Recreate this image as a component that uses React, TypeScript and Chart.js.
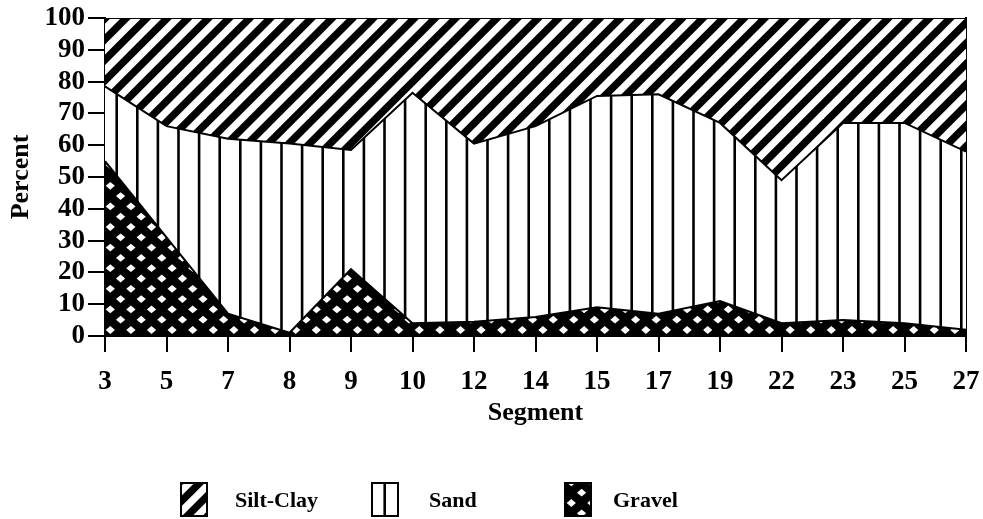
import React, { useEffect, useRef } from 'react';
import { Chart, registerables } from 'chart.js';

Chart.register(...registerables);

const segments = ['3', '5', '7', '8', '9', '10', '12', '14', '15', '17', '19', '22', '23', '25', '27'];
const gravel = [55, 31, 7, 1, 21, 4, 4.5, 6, 9, 7, 11, 4, 5, 4, 2];
const sand = [23.5, 35, 55, 59.5, 37.5, 72.5, 56, 60, 66.5, 69, 56, 45, 62, 63, 56];
const siltClay = [21.5, 34, 38, 39.5, 41.5, 23.5, 39.5, 34, 24.5, 24, 33, 51, 33, 33, 42];
const legendNames = ['Silt-Clay', 'Sand', 'Gravel'];

const FONT = "'Liberation Serif', 'Times New Roman', serif";
const P = 20.6;
const T = 103;

function makeTile(draw: (g: CanvasRenderingContext2D) => void) {
  const c = document.createElement('canvas');
  c.width = T;
  c.height = T;
  const g = c.getContext('2d') as CanvasRenderingContext2D;
  draw(g);
  return c;
}

const tiles: Record<string, () => HTMLCanvasElement> = {
  'Silt-Clay': () =>
    makeTile((g) => {
      g.fillStyle = '#fff';
      g.fillRect(0, 0, T, T);
      g.strokeStyle = '#000';
      g.lineWidth = 7.4;
      for (let k = -2; k <= 12; k++) {
        const c = k * P;
        g.beginPath();
        g.moveTo(c + 10, -10);
        g.lineTo(c - T - 10, T + 10);
        g.stroke();
      }
    }),
  Sand: () =>
    makeTile((g) => {
      g.fillStyle = '#fff';
      g.fillRect(0, 0, T, T);
      g.fillStyle = '#000';
      for (let k = -1; k <= 6; k++) {
        const x = 13.7 + k * P;
        g.fillRect(x - 1.3, 0, 2.6, T);
      }
    }),
  Gravel: () =>
    makeTile((g) => {
      g.fillStyle = '#000';
      g.fillRect(0, 0, T, T);
      g.fillStyle = '#fff';
      const hw = 4.6;
      const hh = 3.9;
      const diamond = (cx: number, cy: number) => {
        g.beginPath();
        g.moveTo(cx - hw, cy);
        g.lineTo(cx, cy - hh);
        g.lineTo(cx + hw, cy);
        g.lineTo(cx, cy + hh);
        g.closePath();
        g.fill();
      };
      for (let i = -1; i <= 6; i++) {
        for (let j = -1; j <= 6; j++) {
          diamond(7.3 + i * P, 0.4 + j * P);
          diamond(7.3 + (i + 0.5) * P, 0.4 + (j + 0.5) * P);
        }
      }
    }),
};

function Swatch({ kind, left, top }: { kind: string; left: number; top: number }) {
  const ref = useRef<HTMLCanvasElement>(null);
  useEffect(() => {
    const c = ref.current;
    if (!c) return;
    const g = c.getContext('2d') as CanvasRenderingContext2D;
    const pat = g.createPattern(tiles[kind](), 'repeat');
    if (pat) g.fillStyle = pat;
    g.fillRect(0, 0, c.width, c.height);
    g.strokeStyle = '#000';
    g.lineWidth = 2;
    g.strokeRect(1, 1, c.width - 2, c.height - 2);
  }, [kind]);
  return <canvas ref={ref} width={28} height={35} style={{ position: 'absolute', left, top }} />;
}

export default function App() {
  const canvasRef = useRef<HTMLCanvasElement>(null);

  useEffect(() => {
    const canvas = canvasRef.current;
    if (!canvas) return;
    const ctx = canvas.getContext('2d') as CanvasRenderingContext2D;
    const pats: Record<string, CanvasPattern | string> = {};
    for (const k of Object.keys(tiles)) {
      pats[k] = ctx.createPattern(tiles[k](), 'repeat') || '#000';
    }
    const tickFont = { family: FONT, size: 27, weight: 'bold' as const, lineHeight: 1.0 };
    const titleFont = { family: FONT, size: 26, weight: 'bold' as const };

    const chart = new Chart(canvas, {
      type: 'line',
      data: {
        labels: segments,
        datasets: [
          {
            label: 'Gravel',
            data: gravel,
            fill: 'origin',
            backgroundColor: pats['Gravel'] as any,
            borderColor: '#000',
            borderWidth: 2,
            pointRadius: 0,
            tension: 0,
          },
          {
            label: 'Sand',
            data: sand,
            fill: '-1',
            backgroundColor: pats['Sand'] as any,
            borderColor: '#000',
            borderWidth: 2,
            pointRadius: 0,
            tension: 0,
          },
          {
            label: 'Silt-Clay',
            data: siltClay,
            fill: '-1',
            backgroundColor: pats['Silt-Clay'] as any,
            borderColor: '#000',
            borderWidth: 2,
            pointRadius: 0,
            tension: 0,
          },
        ],
      },
      options: {
        responsive: false,
        animation: false,
        layout: { padding: { left: 0, right: 17, top: 18, bottom: 90 } },
        plugins: { legend: { display: false }, tooltip: { enabled: false } },
        scales: {
          x: {
            type: 'category',
            offset: false,
            z: 1,
            grid: {
              display: true,
              drawOnChartArea: false,
              drawTicks: true,
              tickLength: 16,
              color: '#000',
              lineWidth: 2,
            },
            border: { display: true, color: '#000', width: 2 },
            ticks: { color: '#000', font: tickFont, padding: 17, maxRotation: 0, autoSkip: false },
            title: {
              display: true,
              text: 'Segment',
              color: '#000',
              font: titleFont,
              padding: { top: 0, bottom: 0 },
            },
            afterFit: (s: any) => {
              s.height = 93;
              s.paddingLeft = 0;
              s.paddingRight = 0;
            },
          },
          y: {
            stacked: true,
            min: 0,
            max: 100,
            z: 1,
            grid: {
              display: true,
              drawOnChartArea: false,
              drawTicks: true,
              tickLength: 17,
              color: '#000',
              lineWidth: 2,
            },
            border: { display: true, color: '#000', width: 2 },
            ticks: { stepSize: 10, autoSkip: false, color: '#000', font: tickFont, padding: 3 },
            title: {
              display: true,
              text: 'Percent',
              color: '#000',
              font: titleFont,
              padding: { top: 6, bottom: 0 },
            },
            afterFit: (s: any) => {
              s.width = 105;
              s.paddingTop = 0;
              s.paddingBottom = 0;
            },
          },
          y2: {
            position: 'right',
            display: true,
            z: 1,
            grid: { display: false, drawTicks: false },
            ticks: { display: false },
            border: { display: true, color: '#000', width: 2 },
            afterFit: (s: any) => {
              s.width = 0;
              s.paddingTop = 0;
              s.paddingBottom = 0;
            },
          },
        },
      },
    });
    return () => chart.destroy();
  }, []);

  const items = [
    { name: legendNames[0], box: 180, text: 235 },
    { name: legendNames[1], box: 371, text: 429 },
    { name: legendNames[2], box: 564, text: 613 },
  ];

  return (
    <div style={{ position: 'fixed', left: 0, top: 0, width: 983, height: 519, background: '#fff', overflow: 'hidden' }}>
      <canvas ref={canvasRef} width={983} height={519} style={{ position: 'absolute', left: 0, top: 0 }} />
      {items.map((it) => (
        <React.Fragment key={it.name}>
          <Swatch kind={it.name} left={it.box} top={482} />
          <div
            style={{
              position: 'absolute',
              left: it.text,
              top: 482,
              height: 35,
              lineHeight: '35px',
              fontFamily: FONT,
              fontWeight: 'bold',
              fontSize: 22,
              color: '#000',
              whiteSpace: 'nowrap',
            }}
          >
            {it.name}
          </div>
        </React.Fragment>
      ))}
    </div>
  );
}
